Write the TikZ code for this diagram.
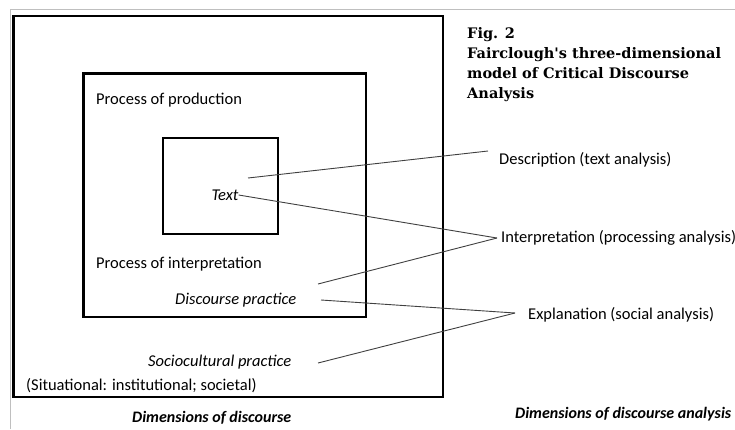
\documentclass[tikz,border=0pt]{standalone}
\usepackage{fontspec}
\setmainfont{Carlito}
\newfontfamily\titlefont{DejaVu Serif}
\usepackage{tikz}
\usepackage{xcolor}
\usetikzlibrary{positioning}
\tikzstyle{frame}  = [rectangle, draw=black, line width=2.8pt, inner sep=0pt]
\tikzstyle{label}  = [inner sep=0pt, anchor=west, font=\fontsize{16.5}{19}\selectfont]
\tikzstyle{ilabel} = [inner sep=0pt, anchor=west, font=\fontsize{16.5}{19}\selectfont\itshape]
\tikzstyle{caption} = [inner sep=0pt, anchor=west, font=\fontsize{16}{19}\selectfont\bfseries\itshape]
\tikzstyle{link}   = [draw=black!75, line width=0.9pt]

\begin{document}
\begin{tikzpicture}[x=1pt, y=-1pt]
    \useasboundingbox (0,0) rectangle (735,429);
    \draw[black!25, line width=1pt] (10.5,429) -- (10.5,9) -- (735,9);

    % nested dimensions
    \node (outer) [frame, minimum width=429.5pt, minimum height=381pt] at (228.25,206.5) {};
    \node (middle) [frame, minimum width=282.5pt, minimum height=243.5pt] at (224.75,195.25) {};
    \node (inner) [frame, minimum width=115pt, minimum height=96pt] at (220.5,186) {};

    \node (prod) [label] at (96,100) {Process of production};
    \node (text) [ilabel, anchor=center] at (225,195) {Text};
    \node (interp) [label] at (96,264) {Process of interpretation};
    \node (dprac) [ilabel] at (175,300) {Discourse practice};
    \node (sprac) [ilabel] at (148,362) {Sociocultural practice};
    \node (situ) [label] at (26,386) {(Situational: institutional; societal)};
    \node (dimd) [caption] at (132,418) {Dimensions of discourse};

    % title and analysis levels
    \node (title) [inner sep=0pt, anchor=north west, align=left,
                   font=\titlefont\bfseries\fontsize{14.5}{20}\selectfont] at (467,27)
        {Fig. 2\\Fairclough's three-dimensional\\model of Critical Discourse\\Analysis};
    \node (desc) [label] at (499,160) {Description (text analysis)};
    \node (proc) [label] at (501,238) {Interpretation (processing analysis)};
    \node (expl) [label] at (528,315) {Explanation (social analysis)};
    \node (dima) [caption] at (515,414) {Dimensions of discourse analysis};

    \coordinate (c1) at (248,178);
    \coordinate (c3) at (318,284);
    \coordinate (c4) at (321,300);
    \coordinate (c5) at (318,363);
    \coordinate (desctip) at (488,151);
    \coordinate (proctip) at (497,238);
    \coordinate (expltip) at (515,313);

    \draw[link] (c1) -- (desctip);
    \draw[link] (text.east) -- (proctip);
    \draw[link] (c3) -- (proctip);
    \draw[link] (c4) -- (expltip);
    \draw[link] (c5) -- (expltip);
\end{tikzpicture}
\end{document}
